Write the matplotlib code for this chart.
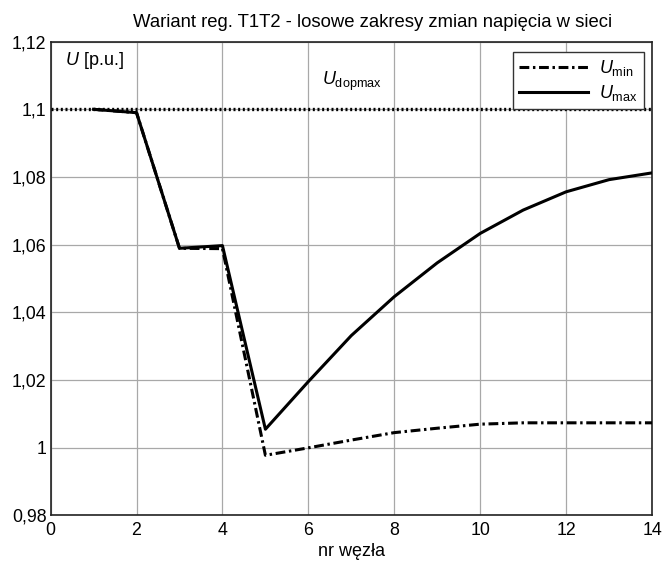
import matplotlib
matplotlib.use('Agg')
import matplotlib.pyplot as plt

plt.rcParams['font.family'] = ['Liberation Sans', 'DejaVu Sans']
plt.rcParams['mathtext.fontset'] = 'custom'
plt.rcParams['mathtext.rm'] = 'Liberation Sans'
plt.rcParams['mathtext.it'] = 'Liberation Sans:italic'

# dane
wezly = [1, 2, 3, 4, 5, 6, 7, 8, 9, 10, 11, 12, 13, 14]
u_min = [1.1, 1.0990, 1.0589, 1.0588, 0.9977, 0.9999, 1.0022, 1.0044,
         1.0057, 1.0069, 1.0073, 1.0073, 1.0073, 1.0073]
u_max = [1.1, 1.0990, 1.0589, 1.0597, 1.0054, 1.0195, 1.0331, 1.0446,
         1.0546, 1.0633, 1.0702, 1.0756, 1.0792, 1.0812]
u_dopmax = 1.1
xticks = [0, 2, 4, 6, 8, 10, 12, 14]
yticks = [0.98, 1.0, 1.02, 1.04, 1.06, 1.08, 1.1, 1.12]
ylabels = ['0,98', '1', '1,02', '1,04', '1,06', '1,08', '1,1', '1,12']

fig = plt.figure(figsize=(6.66, 5.63), dpi=100)
ax = fig.add_axes([0.076, 0.085, 0.903, 0.841])

ax.axhline(u_dopmax, color='black', linestyle=(0, (0.6, 0.8)), linewidth=2.4, zorder=3)
ax.plot(wezly, u_min, color='black', linewidth=2.2,
        linestyle=(0, (3.2, 1.2, 0.8, 1.2)), label=r'$U_{\mathrm{min}}$', zorder=4)
ax.plot(wezly, u_max, color='black', linewidth=2.2, linestyle='-',
        label=r'$U_{\mathrm{max}}$', zorder=5)

ax.set_xlim(0, 14)
ax.set_ylim(0.98, 1.12)
ax.set_xticks(xticks)
ax.set_yticks(yticks)
ax.set_yticklabels(ylabels)
ax.tick_params(axis='y', direction='in', length=0, labelsize=12.8, pad=3)
ax.tick_params(axis='x', direction='in', length=0, labelsize=12.8, pad=5)
ax.grid(True, color='#a8a8a8', linewidth=0.9)
for s in ax.spines.values():
    s.set_linewidth(1.2)
    s.set_color('#222222')

ax.text(0.33, 1.1145, r'$U$ [p.u.]', fontsize=13, va='center')
ax.text(6.32, 1.1082, r'$U_{\mathrm{dopmax}}$', fontsize=13, va='center')

leg = ax.legend(loc='upper right', bbox_to_anchor=(0.986, 0.978), fontsize=13,
                handlelength=3.8, framealpha=1, fancybox=False,
                edgecolor='#333333', borderpad=0.35, labelspacing=0.25,
                borderaxespad=0, handletextpad=0.6)
leg.get_frame().set_linewidth(1.0)

ax.set_xlabel('nr węzła', fontsize=13, labelpad=3)
fig.text(0.559, 0.952, 'Wariant reg. T1T2 - losowe zakresy zmian napięcia w sieci',
         fontsize=13.3, ha='center', va='baseline')

fig.savefig('out.png', dpi=100)
